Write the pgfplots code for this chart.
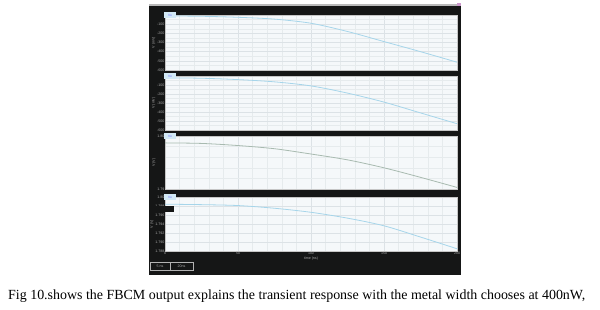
\documentclass[border=0pt]{standalone}
\usepackage{pgfplots}
\pgfplotsset{compat=1.18}
\usepackage{fontspec}
\setmainfont{Liberation Serif}
\setsansfont{Liberation Sans}
\definecolor{frame}{HTML}{151616}
\definecolor{plotbg}{HTML}{F5F8FA}
\definecolor{gridc}{HTML}{DCE2E6}
\definecolor{ticklab}{HTML}{A8A8A8}
\definecolor{wblue}{HTML}{A6D5EA}
\definecolor{wgreen}{HTML}{A8BAB0}
\definecolor{lblbox}{HTML}{D2E9F6}
\pgfplotsset{
  panel/.style={
    width=292bp, scale only axis, anchor=south west,
    xmin=0, xmax=200,
    axis background/.style={fill=plotbg},
    axis line style={draw=gray!45, line width=0.4pt},
    grid=both,
    major grid style={draw=gridc, line width=0.35pt},
    minor grid style={draw=gridc!70, line width=0.25pt},
    xtick={0,50,...,200}, minor xtick={0,10,...,200},
    xticklabels={},
    tick style={draw=none},
    yticklabel style={font=\sffamily\fontsize{3.6}{4}\selectfont, text=ticklab, inner sep=0.5pt},
    every axis y label/.style={at={(ticklabel cs:0.5)}, rotate=90, anchor=south, yshift=0.5pt,
      font=\sffamily\fontsize{3.6}{4}\selectfont, text=ticklab, inner sep=0.5pt},
    minor y tick num=1,
  }
}
\begin{document}
\begin{tikzpicture}
\fill[white] (0bp,0bp) rectangle (600bp,310bp);
\fill[frame] (149bp,35bp) rectangle (461bp,306bp);
\fill[gray!55] (149bp,304bp) rectangle (461bp,306bp);
\fill[violet!40] (457bp,304bp) rectangle (461bp,307bp);

% Panel 1
\begin{axis}[panel, at={(165bp,240bp)}, height=55bp,
  ymin=-600, ymax=0, ytick={-600,-500,...,0},
  yticklabels={-600,-500,-400,-300,-200,-100,},
  ylabel={V (mV)}]
\addplot[wblue, line width=0.8pt, smooth] coordinates {
(0,-10) (25,-14) (50,-25) (75,-45) (100,-90) (125,-180) (150,-290) (175,-400) (200,-515)};
\end{axis}

% Panel 2
\begin{axis}[panel, at={(165bp,180bp)}, height=54bp,
  ymin=-600, ymax=0, ytick={-600,-500,...,0},
  yticklabels={-600,-500,-400,-300,-200,-100,},
  ylabel={V (mV)}]
\addplot[wblue, line width=0.8pt, smooth] coordinates {
(0,-20) (25,-25) (50,-40) (75,-65) (100,-110) (125,-190) (150,-290) (175,-410) (200,-530)};
\end{axis}

% Panel 3
\begin{axis}[panel, at={(165bp,121bp)}, height=53bp,
  ymin=1.79, ymax=1.80, ytick={1.79,1.80},
  yticklabels={1.79,1.80},
  minor y tick num=4,
  ylabel={V (V)}]
\addplot[wgreen, line width=0.8pt, smooth] coordinates {
(0,1.7987) (25,1.7986) (50,1.7982) (75,1.7976) (100,1.7966) (125,1.7955) (150,1.7940) (175,1.7922) (200,1.7903)};
\end{axis}

% Panel 4
\begin{axis}[panel, at={(165bp,59bp)}, height=54bp,
  ymin=1.788, ymax=1.800, ytick={1.788,1.790,...,1.800},
  yticklabels={1.788,1.790,1.792,1.794,1.796,1.798,1.80},
  xticklabels={0,50,100,150,200},
  xticklabel style={font=\sffamily\fontsize{3.6}{4}\selectfont, text=ticklab, inner sep=1pt},
  xlabel={time (ns)},
  xlabel style={font=\sffamily\fontsize{3.6}{4}\selectfont, text=ticklab, inner sep=0.5pt},
  ylabel={V (V)}]
\addplot[wblue, line width=0.8pt, smooth] coordinates {
(0,1.7984) (25,1.7983) (50,1.7981) (75,1.7975) (100,1.7966) (125,1.7953) (150,1.7936) (175,1.7911) (200,1.7885)};
\end{axis}

% header strips and label boxes
\foreach \t in {295,234,174,113}{
  \fill[frame] (176bp,\t bp) rectangle (457bp,\t bp+2.5bp);
  \fill[lblbox] (164bp,\t bp-3bp) rectangle (176bp,\t bp+3bp);
  \node[font=\sffamily\fontsize{3.2}{3.5}\selectfont, text=blue!60, inner sep=0] at (170bp,\t bp) {Vo};
}
\fill[frame] (150bp,98bp) rectangle (174bp,104bp);

% bottom-left boxes
\draw[gray!60, line width=0.4pt] (150bp,40bp) rectangle (170bp,48bp);
\draw[gray!60, line width=0.4pt] (170bp,40bp) rectangle (193bp,48bp);
\node[font=\sffamily\fontsize{3.6}{4}\selectfont, text=ticklab, inner sep=0] at (160bp,44bp) {5 ns};
\node[font=\sffamily\fontsize{3.6}{4}\selectfont, text=ticklab, inner sep=0] at (181.5bp,44bp) {20ns};

% caption
\node[anchor=base west, inner sep=0, font=\fontsize{14}{16}\selectfont] at (8bp,11bp)
  {Fig 10.shows the FBCM output explains the transient response with the metal width chooses at 400nW,};
\end{tikzpicture}
\end{document}
